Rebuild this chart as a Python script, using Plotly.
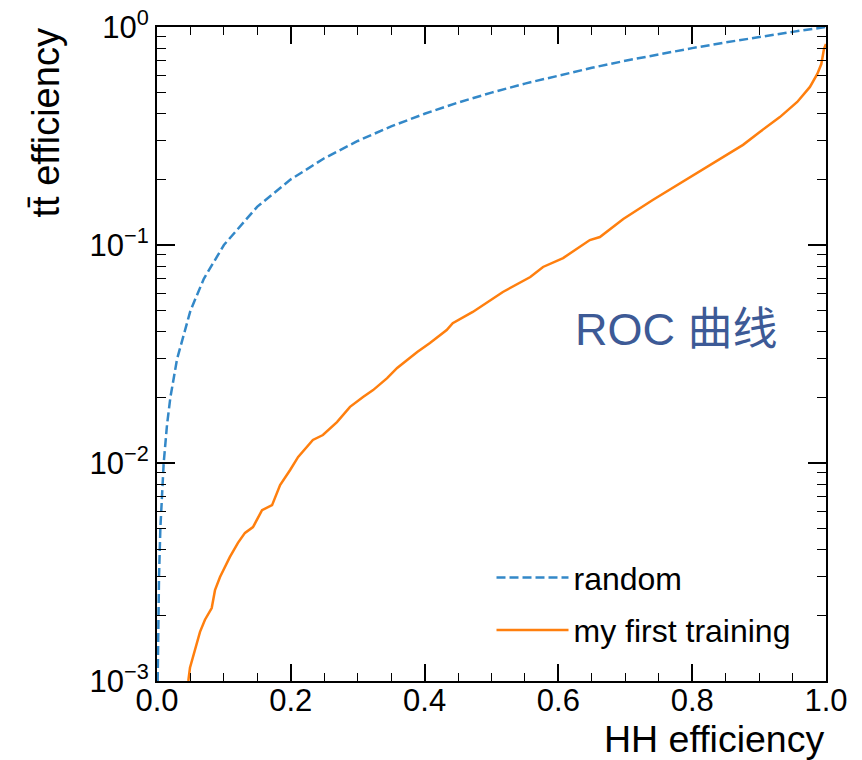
import plotly.graph_objects as go

# Random classifier (diagonal)
random_eff_sig = [0.001, 0.0015, 0.002, 0.003, 0.005, 0.007, 0.01, 0.015, 0.02, 0.03, 0.05, 0.07,
                  0.1, 0.15, 0.2, 0.25, 0.3, 0.35, 0.4, 0.45, 0.5, 0.55, 0.6, 0.65, 0.7, 0.75,
                  0.8, 0.85, 0.9, 0.95, 1.0]
random_eff_bkg = [0.001, 0.0015, 0.002, 0.003, 0.005, 0.007, 0.01, 0.015, 0.02, 0.03, 0.05, 0.07,
                  0.1, 0.15, 0.2, 0.25, 0.3, 0.35, 0.4, 0.45, 0.5, 0.55, 0.6, 0.65, 0.7, 0.75,
                  0.8, 0.85, 0.9, 0.95, 1.0]

# "my first training" ROC curve
train_eff_sig = [0.0468, 0.0493, 0.0643, 0.0717, 0.0818, 0.0867, 0.0942, 0.109, 0.121, 0.1315,
                 0.1435, 0.157, 0.172, 0.184, 0.199, 0.211, 0.233, 0.248, 0.269, 0.2885,
                 0.308, 0.323, 0.344, 0.359, 0.389, 0.408, 0.433, 0.442, 0.472, 0.493,
                 0.517, 0.558, 0.577, 0.607, 0.647, 0.662, 0.697, 0.741, 0.797, 0.842,
                 0.876, 0.901, 0.931, 0.957, 0.976, 0.987, 0.993, 0.997, 1.0]
train_eff_bkg = [0.00100, 0.00115, 0.00168, 0.00191, 0.00216, 0.00261, 0.00300, 0.00371, 0.00430, 0.00478,
                 0.00508, 0.00608, 0.00641, 0.00792, 0.00929, 0.01066, 0.01276, 0.01344, 0.0154, 0.0181,
                 0.0201, 0.0216, 0.0245, 0.0273, 0.0323, 0.0355, 0.0407, 0.0438, 0.0493, 0.0542,
                 0.0609, 0.0713, 0.0793, 0.0871, 0.1054, 0.1088, 0.1316, 0.1608, 0.205, 0.248,
                 0.288, 0.330, 0.386, 0.453, 0.531, 0.609, 0.676, 0.793, 0.836]

x_ticks = [0.0, 0.2, 0.4, 0.6, 0.8, 1.0]
x_tick_labels = ["0.0", "0.2", "0.4", "0.6", "0.8", "1.0"]
y_ticks = [0.001, 0.01, 0.1, 1.0]
y_tick_labels = ["10<sup>−3</sup>", "10<sup>−2</sup>", "10<sup>−1</sup>", "10<sup>0</sup>"]
y_minor = [m * d for d in [0.001, 0.01, 0.1] for m in range(2, 10)]

FONT = "Liberation Sans, Arial, Helvetica, sans-serif"

fig = go.Figure()
fig.add_trace(go.Scatter(x=random_eff_sig, y=random_eff_bkg, mode="lines", name="random",
                         line=dict(color="#3388c8", width=2.5, dash="9px,4px"),
                         legendgroup="a"))
fig.add_trace(go.Scatter(x=train_eff_sig, y=train_eff_bkg, mode="lines", name="my first training",
                         line=dict(color="#ff7f0e", width=2.5), legendgroup="b"))

axis_common = dict(showgrid=False, zeroline=False, showline=True, linecolor="black", linewidth=2,
                   mirror="ticks", ticks="inside", tickcolor="black", tickwidth=1.5,
                   automargin=False,
                   tickfont=dict(family=FONT, size=31, color="black"))

fig.update_xaxes(range=[0, 1], tickvals=x_ticks, ticktext=x_tick_labels, ticklen=17,
                 ticklabelstandoff=-9,
                 minor=dict(ticks="inside", dtick=0.05, ticklen=8, tickcolor="black", tickwidth=1.2),
                 **axis_common)
fig.update_yaxes(type="log", range=[-3, 0], tickvals=y_ticks, ticktext=y_tick_labels, ticklen=18,
                 minor=dict(ticks="inside", tickvals=y_minor, ticklen=9, tickcolor="black", tickwidth=1.2),
                 **axis_common)

fig.add_annotation(text="HH efficiency", xref="paper", yref="paper", x=1.0, y=-0.088,
                   xanchor="right", yanchor="middle", showarrow=False,
                   font=dict(family=FONT, size=37.5, color="black"))
fig.add_annotation(text="tt\u0304 efficiency", xref="paper", yref="paper", x=-0.1674, y=1.0,
                   xanchor="center", yanchor="top", textangle=-90, showarrow=False,
                   font=dict(family=FONT, size=38, color="black"))
fig.add_annotation(text="ROC 曲线", xref="paper", yref="paper", x=0.776, y=0.537,
                   xanchor="center", yanchor="middle", showarrow=False,
                   font=dict(family="Liberation Sans, Noto Sans CJK SC, sans-serif", size=45, color="#3d5a96"))

fig.update_layout(
    width=862, height=760,
    margin=dict(l=157, r=36, t=27, b=79, autoexpand=False),
    plot_bgcolor="white", paper_bgcolor="white",
    showlegend=True,
    legend=dict(x=0.5, y=0.035, xanchor="left", yanchor="bottom", bgcolor="rgba(0,0,0,0)",
                font=dict(family=FONT, size=32, color="black"), tracegroupgap=8,
                itemwidth=72),
)

fig.write_html("out.html")
